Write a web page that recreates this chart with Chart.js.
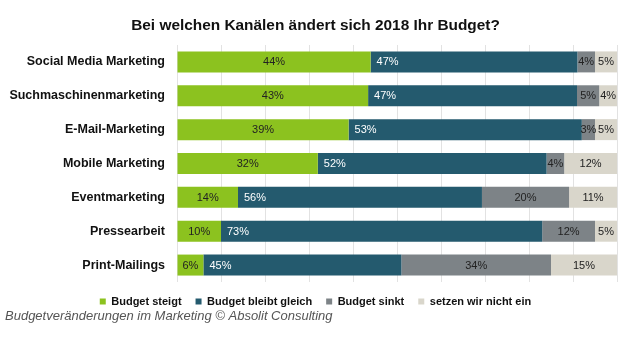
<!DOCTYPE html>
<html lang="de">
<head>
<meta charset="utf-8">
<title>Budgetveränderungen im Marketing</title>
<script src="https://cdn.jsdelivr.net/npm/chart.js@4/dist/chart.umd.min.js"></script>
<style>
  html, body { margin: 0; padding: 0; background: #fff; }
  .chart-box { position: relative; width: 640px; height: 361px; }
</style>
</head>
<body>
<div class="chart-box"><canvas id="chart"></canvas></div>
<script>
const categories = ['Social Media Marketing', 'Suchmaschinenmarketing', 'E-Mail-Marketing',
  'Mobile Marketing', 'Eventmarketing', 'Pressearbeit', 'Print-Mailings'];
const steigt = [44, 43, 39, 32, 14, 10, 6];
const gleich = [47, 47, 53, 52, 56, 73, 45];
const sinkt = [4, 5, 3, 4, 20, 12, 34];
const nichtEin = [5, 4, 5, 12, 11, 5, 15];
const seriesNames = ['Budget steigt', 'Budget bleibt gleich', 'Budget sinkt', 'setzen wir nicht ein'];
const titleText = 'Bei welchen Kanälen ändert sich 2018 Ihr Budget?';
const captionText = 'Budgetveränderungen im Marketing © Absolit Consulting';

const colors = ['#8cc21f', '#245a6e', '#7d8387', '#d9d6cb'];
const FONT = '"Liberation Sans", Arial, sans-serif';

const raw = [steigt, gleich, sinkt, nichtEin];
// 100% stacked: each row is scaled to its own total
const totals = categories.map((c, j) => raw.reduce((s, arr) => s + arr[j], 0));

const barLabels = {
  id: 'barLabels',
  afterDatasetsDraw(chart) {
    const ctx = chart.ctx;
    ctx.save();
    ctx.font = '11px ' + FONT;
    ctx.textBaseline = 'middle';
    chart.data.datasets.forEach((ds, i) => {
      const meta = chart.getDatasetMeta(i);
      meta.data.forEach((bar, j) => {
        const { x, y, base } = bar.getProps(['x', 'y', 'base'], true);
        const txt = raw[i][j] + '%';
        if (i === 1) {
          ctx.textAlign = 'left';
          ctx.fillStyle = '#ffffff';
          ctx.fillText(txt, base + 6, y + 0.5);
        } else {
          ctx.textAlign = 'center';
          ctx.fillStyle = '#222222';
          ctx.fillText(txt, (x + base) / 2, y + 0.5);
        }
      });
    });
    ctx.restore();
  }
};

// long category names run into the left padding, so don't clip them there
const labelRoom = {
  id: 'labelRoom',
  afterLayout(chart) {
    chart.scales.y.left = 0;
  }
};

const caption = {
  id: 'caption',
  afterDraw(chart) {
    const ctx = chart.ctx;
    ctx.save();
    ctx.font = 'italic 13px ' + FONT;
    ctx.fillStyle = '#555555';
    ctx.textAlign = 'left';
    ctx.textBaseline = 'middle';
    ctx.fillText(captionText, 5, 316.5);
    ctx.restore();
  }
};

new Chart(document.getElementById('chart'), {
  type: 'bar',
  data: {
    labels: categories,
    datasets: raw.map((arr, i) => ({
      label: seriesNames[i],
      data: arr.map((v, j) => v / totals[j] * 100),
      backgroundColor: colors[i],
      borderWidth: 0,
      barPercentage: 0.62,
      categoryPercentage: 1
    }))
  },
  options: {
    indexAxis: 'y',
    responsive: true,
    maintainAspectRatio: false,
    animation: false,
    layout: { padding: { left: 14, right: 23, top: 0, bottom: 44 } },
    scales: {
      x: {
        stacked: true,
        min: 0,
        max: 100,
        ticks: { display: false, stepSize: 10 },
        grid: { color: '#e2e2e2', drawTicks: false },
        border: { display: false }
      },
      y: {
        stacked: true,
        grid: { display: false, drawTicks: false },
        border: { display: false },
        ticks: { color: '#111', padding: 12, font: { family: FONT, size: 12.5, weight: 'bold' } },
        afterFit(scale) { scale.width = 163; }
      }
    },
    plugins: {
      title: {
        display: true,
        text: titleText,
        color: '#111',
        font: { family: FONT, size: 15.4, weight: 'bold' },
        padding: { top: 16.8, bottom: 9.7 }
      },
      legend: {
        position: 'bottom',
        labels: {
          boxWidth: 6,
          boxHeight: 6,
          padding: 14,
          color: '#111',
          font: { family: FONT, size: 11, weight: 'bold' }
        }
      },
      tooltip: { enabled: false }
    }
  },
  plugins: [barLabels, labelRoom, caption]
});
</script>
</body>
</html>
